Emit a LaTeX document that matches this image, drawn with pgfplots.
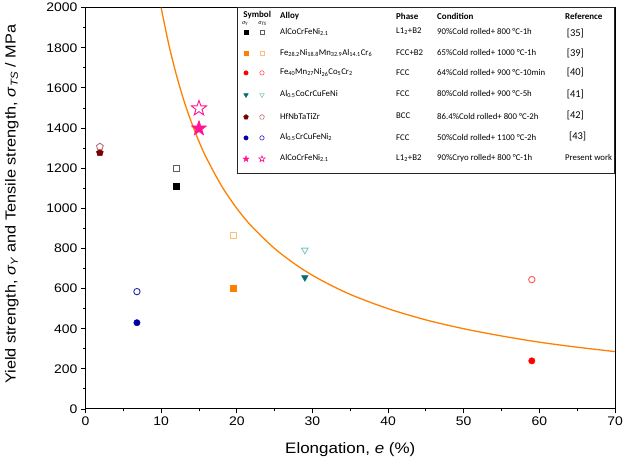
\documentclass[border=0pt]{standalone}
\usepackage{fontspec}
\setmainfont{Liberation Sans}[FakeStretch=1.12]
\newfontfamily\legfont{Carlito}
\usepackage{pgfplots}
\pgfplotsset{compat=1.18}
\definecolor{curvec}{RGB}{255,127,0}
\definecolor{opengrey}{RGB}{95,95,95}
\definecolor{orf}{RGB}{255,128,0}
\definecolor{oro}{RGB}{255,190,120}
\definecolor{redf}{RGB}{255,0,0}
\definecolor{redo}{RGB}{255,85,85}
\definecolor{tealf}{RGB}{0,110,110}
\definecolor{tealo}{RGB}{120,200,200}
\definecolor{dredf}{RGB}{120,0,0}
\definecolor{dredo}{RGB}{190,110,110}
\definecolor{navyf}{RGB}{0,0,160}
\definecolor{navyo}{RGB}{40,40,180}
\definecolor{pinkc}{RGB}{255,20,147}
\newcommand\starpath{%
  \pgfpathmoveto{\pgfqpointpolar{90}{\pgfplotmarksize}}%
  \pgfpathlineto{\pgfqpointpolar{126}{0.40\pgfplotmarksize}}%
  \pgfpathlineto{\pgfqpointpolar{162}{\pgfplotmarksize}}%
  \pgfpathlineto{\pgfqpointpolar{198}{0.40\pgfplotmarksize}}%
  \pgfpathlineto{\pgfqpointpolar{234}{\pgfplotmarksize}}%
  \pgfpathlineto{\pgfqpointpolar{270}{0.40\pgfplotmarksize}}%
  \pgfpathlineto{\pgfqpointpolar{306}{\pgfplotmarksize}}%
  \pgfpathlineto{\pgfqpointpolar{342}{0.40\pgfplotmarksize}}%
  \pgfpathlineto{\pgfqpointpolar{18}{\pgfplotmarksize}}%
  \pgfpathlineto{\pgfqpointpolar{54}{0.40\pgfplotmarksize}}%
  \pgfpathclose}
\pgfdeclareplotmark{pstar}{\starpath\pgfusepathqstroke}
\pgfdeclareplotmark{pstar*}{\starpath\pgfusepathqfillstroke}
\begin{document}
\begin{tikzpicture}[x=1bp,y=1bp]
\useasboundingbox (0,0) rectangle (625,464);
\begin{axis}[
  at={(85.5bp,55bp)}, anchor=south west, scale only axis,
  width=529.5bp, height=401.3bp,
  xmin=0, xmax=70, ymin=0, ymax=2000,
  xtick={0,10,...,70}, ytick={0,200,...,2000},
  minor x tick num=1, minor y tick num=1,
  tick pos=left, tick align=outside,
  major tick length=4.5bp, minor tick length=2.5bp,
  axis line style={line width=1bp},
  tick style={line width=0.9bp, black},
  ticklabel style={font=\fontsize{12.5}{14}\selectfont},
  /pgf/number format/assume math mode=true,
  /pgf/number format/1000 sep={},
  xlabel={Elongation, \textit{e} (\%)},
  ylabel={Yield strength, \textit{σ}\textsubscript{\textit{Y}} and Tensile strength, \textit{σ}\textsubscript{\textit{TS}} / MPa},
  label style={font=\fontsize{15.2}{18}\selectfont},
  xlabel style={at={(axis description cs:0.5,-0.102)}, anchor=center},
  ylabel style={at={(axis description cs:-0.139,0.51)}, anchor=center, font=\fontsize{14.6}{17}\selectfont},
  clip=false,
]
% fitted curve
\addplot[curvec, line width=1.3bp, smooth] coordinates {
(10,2000) (11,1818) (12,1667) (13,1538) (14,1429) (15,1333) (16,1250)
(18,1111) (20,1000) (22,909) (25,800) (28,714) (31,645) (35,571)
(40,500) (45,444) (50,400) (55,364) (60,333) (65,308) (70,286)};
% AlCoCrFeNi2.1 [35]
\addplot[only marks, mark=square*, mark size=3bp, black] coordinates {(12,1110)};
\addplot[only marks, mark=square, mark size=3bp, opengrey, mark options={line width=0.9bp}] coordinates {(12,1200)};
% Fe28.2...
\addplot[only marks, mark=square*, mark size=3bp, orf] coordinates {(19.5,600)};
\addplot[only marks, mark=square, mark size=3bp, oro, mark options={line width=0.9bp}] coordinates {(19.5,866)};
% Fe40Mn27...
\addplot[only marks, mark=*, mark size=3.2bp, redf] coordinates {(59,240)};
\addplot[only marks, mark=o, mark size=3.2bp, redo, mark options={line width=0.9bp}] coordinates {(59,645)};
% Al0.5CoCrCuFeNi
\addplot[only marks, mark=triangle*, mark size=3.8bp, tealf, mark options={rotate=180}] coordinates {(29,655)};
\addplot[only marks, mark=triangle, mark size=3.8bp, tealo, mark options={rotate=180, line width=0.9bp}] coordinates {(29,792)};
% HfNbTaTiZr
\addplot[only marks, mark=pentagon*, mark size=3.6bp, dredf] coordinates {(1.9,1277)};
\addplot[only marks, mark=pentagon, mark size=3.6bp, dredo, mark options={line width=0.9bp}] coordinates {(1.9,1307)};
% Al0.5CrCuFeNi2
\addplot[only marks, mark=*, mark size=3.2bp, navyf] coordinates {(6.8,430)};
\addplot[only marks, mark=o, mark size=3.2bp, navyo, mark options={line width=0.9bp}] coordinates {(6.8,585)};
% present work
\addplot[only marks, mark=pstar*, mark size=8bp, pinkc, mark options={line width=0.5bp}] coordinates {(15,1398)};
\addplot[only marks, mark=pstar, mark size=8bp, pinkc, mark options={line width=0.9bp}] coordinates {(15,1498)};

% legend box
\draw[line width=1bp, black!85] (axis cs:20.03,1172) rectangle (axis cs:69.9,2000);
% legend markers (data coordinates in the axis)
\addplot[only marks, mark=square*, mark size=2bp, black] coordinates {(21.22,1879)};
\addplot[only marks, mark=square, mark size=2bp, opengrey, mark options={line width=0.6bp}] coordinates {(23.33,1879)};
\addplot[only marks, mark=square*, mark size=2bp, orf] coordinates {(21.22,1774)};
\addplot[only marks, mark=square, mark size=2bp, oro, mark options={line width=0.6bp}] coordinates {(23.33,1774)};
\addplot[only marks, mark=*, mark size=2.2bp, redf] coordinates {(21.22,1675)};
\addplot[only marks, mark=o, mark size=2.2bp, redo, mark options={line width=0.6bp}] coordinates {(23.33,1675)};
\addplot[only marks, mark=triangle*, mark size=2.6bp, tealf, mark options={rotate=180}] coordinates {(21.22,1565)};
\addplot[only marks, mark=triangle, mark size=2.6bp, tealo, mark options={rotate=180, line width=0.6bp}] coordinates {(23.33,1565)};
\addplot[only marks, mark=pentagon*, mark size=2.5bp, dredf] coordinates {(21.22,1455)};
\addplot[only marks, mark=pentagon, mark size=2.5bp, dredo, mark options={line width=0.6bp}] coordinates {(23.33,1455)};
\addplot[only marks, mark=*, mark size=2.2bp, navyf] coordinates {(21.22,1351)};
\addplot[only marks, mark=o, mark size=2.2bp, navyo, mark options={line width=0.6bp}] coordinates {(23.33,1351)};
\addplot[only marks, mark=pstar*, mark size=3.3bp, pinkc, mark options={line width=0.3bp}] coordinates {(21.22,1246)};
\addplot[only marks, mark=pstar, mark size=3.3bp, pinkc, mark options={line width=0.6bp}] coordinates {(23.33,1246)};

% legend text
\begin{scope}[every node/.style={font=\legfont\fontsize{8.8}{10}\selectfont, inner sep=0pt}]
\node[font=\legfont\bfseries\fontsize{9}{10}\selectfont] at (axis cs:22.7,1962) {Symbol};
\node[font=\legfont\itshape\fontsize{6}{7}\selectfont] at (axis cs:21.1,1920) {σ\textsubscript{Y}};
\node[font=\legfont\itshape\fontsize{6}{7}\selectfont] at (axis cs:23.4,1920) {σ\textsubscript{TS}};
\node[anchor=west, font=\legfont\bfseries\fontsize{9}{10}\selectfont] at (axis cs:25.71,1958) {Alloy};
\node[anchor=west, font=\legfont\bfseries\fontsize{9}{10}\selectfont] at (axis cs:41.05,1958) {Phase};
\node[anchor=west, font=\legfont\bfseries\fontsize{9}{10}\selectfont] at (axis cs:46.47,1958) {Condition};
\node[anchor=west, font=\legfont\bfseries\fontsize{9}{10}\selectfont] at (axis cs:63.39,1958) {Reference};

\node[anchor=west] at (axis cs:25.71,1881) {AlCoCrFeNi\textsubscript{2.1}};
\node[anchor=west] at (axis cs:41.05,1881) {L1\textsubscript{2}+B2};
\node[anchor=west] at (axis cs:46.47,1881) {90\%Cold rolled+ 800 °C-1h};
\node[anchor=west, font=\legfont\fontsize{10.5}{12}\selectfont] at (axis cs:63.6,1874) {[35]};

\node[anchor=west] at (axis cs:25.71,1776) {Fe\textsubscript{28.2}Ni\textsubscript{18.8}Mn\textsubscript{32.9}Al\textsubscript{14.1}Cr\textsubscript{6}};
\node[anchor=west] at (axis cs:41.05,1776) {FCC+B2};
\node[anchor=west] at (axis cs:46.47,1776) {65\%Cold rolled+ 1000 °C-1h};
\node[anchor=west, font=\legfont\fontsize{10.5}{12}\selectfont] at (axis cs:63.6,1771) {[39]};

\node[anchor=west] at (axis cs:25.71,1677) {Fe\textsubscript{40}Mn\textsubscript{27}Ni\textsubscript{26}Co\textsubscript{5}Cr\textsubscript{2}};
\node[anchor=west] at (axis cs:41.05,1677) {FCC};
\node[anchor=west] at (axis cs:46.47,1677) {64\%Cold rolled+ 900 °C-10min};
\node[anchor=west, font=\legfont\fontsize{10.5}{12}\selectfont] at (axis cs:63.6,1677) {[40]};

\node[anchor=west] at (axis cs:25.71,1570) {Al\textsubscript{0.5}CoCrCuFeNi};
\node[anchor=west] at (axis cs:41.05,1570) {FCC};
\node[anchor=west] at (axis cs:46.47,1570) {80\%Cold rolled+ 900 °C-5h};
\node[anchor=west, font=\legfont\fontsize{10.5}{12}\selectfont] at (axis cs:63.6,1570) {[41]};

\node[anchor=west] at (axis cs:25.71,1460) {HfNbTaTiZr};
\node[anchor=west] at (axis cs:41.05,1460) {BCC};
\node[anchor=west] at (axis cs:46.47,1460) {86.4\%Cold rolled+ 800 °C-2h};
\node[anchor=west, font=\legfont\fontsize{10.5}{12}\selectfont] at (axis cs:63.6,1465) {[42]};

\node[anchor=west] at (axis cs:25.71,1354) {Al\textsubscript{0.5}CrCuFeNi\textsubscript{2}};
\node[anchor=west] at (axis cs:41.05,1354) {FCC};
\node[anchor=west] at (axis cs:46.47,1354) {50\%Cold rolled+ 1100 °C-2h};
\node[anchor=west, font=\legfont\fontsize{10.5}{12}\selectfont] at (axis cs:63.9,1357) {[43]};

\node[anchor=west] at (axis cs:25.71,1251) {AlCoCrFeNi\textsubscript{2.1}};
\node[anchor=west] at (axis cs:41.05,1251) {L1\textsubscript{2}+B2};
\node[anchor=west] at (axis cs:46.47,1251) {90\%Cryo rolled+ 800 °C-1h};
\node[anchor=west] at (axis cs:63.39,1251) {Present work};
\end{scope}
\end{axis}
\end{tikzpicture}
\end{document}
